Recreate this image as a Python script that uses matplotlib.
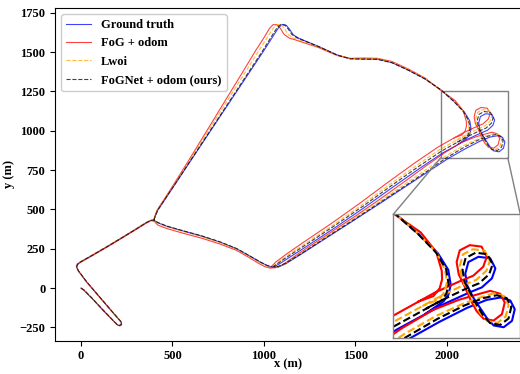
import numpy as np
import matplotlib
matplotlib.use('Agg')
import matplotlib.pyplot as plt
from matplotlib.patches import Rectangle, ConnectionPatch

plt.rcParams['font.family'] = ['Liberation Serif', 'DejaVu Serif']
plt.rcParams['font.weight'] = 'bold'

# Ground truth trajectory (m); None separates the two drawn pieces
gt_x = [0, 15, 60, 120, 180, 198, 210, 220, 219, 170, 100, 30, -15, -25, -20, -5, 60, 140, 220, 300, 355, 380, 398,
        420, 470, 560, 660, 760, 850, 920, 980, 1020, 1050, 1080, 1120,
        1200, 1350, 1500, 1650, 1800, 1900, 2005, 2100, 2180, 2236,
        2275, 2304, 2317, 2309, 2285, 2256, 2236, 2217,
        2198, 2180, 2174, 2183, 2212, 2246, 2261, 2251, 2222, 2185,
        2111, 1976, 1850, 1700, 1550, 1400, 1250, 1150, 1090, 1060, None,
        398, 405, 420, 500, 600, 700, 800, 900, 1000, 1055, 1080, 1100, 1122, 1140, 1160, 1190, 1300, 1400, 1470,
        1550, 1620, 1700, 1790, 1880, 1970, 2040, 2095, 2125, 2132, 2125, 2111, 2060]
gt_y = [0, -12, -65, -140, -212, -233, -238, -231, -215, -150, -55, 40, 110, 135, 152, 165, 208, 262, 318, 375, 415, 430, 432,
        415, 392, 362, 330, 292, 250, 205, 165, 142, 132, 134, 155,
        213, 325, 437, 550, 665, 742, 822, 885, 933, 960,
        968, 958, 928, 888, 866, 872, 898, 932,
        966, 1008, 1050, 1090, 1108, 1103, 1068, 1034, 1003, 985,
        945, 858, 760, 638, 513, 393, 278, 203, 158, 138, None,
        432, 455, 495, 635, 810, 985, 1160, 1335, 1510, 1610, 1655, 1676, 1670, 1645, 1610, 1588, 1535, 1482, 1458,
        1456, 1455, 1433, 1385, 1330, 1258, 1185, 1120, 1063, 1011, 977, 955, 913]

# FoG + odom
fog_x = [2, 17, 62, 122, 182, 200, 212, 222, 221, 172, 102, 32, -13, -23, -18, -3, 62, 142, 222, 302, 357, 382, 400,
         420, 470, 560, 660, 760, 850, 915, 970, 1005, 1035, 1065, 1105,
         1190, 1340, 1490, 1640, 1790, 1890, 1990, 2080, 2155, 2207,
         2246, 2275, 2288, 2280, 2256, 2227, 2207, 2190,
         2173, 2155, 2149, 2158, 2187, 2221, 2236, 2226, 2197, 2160,
         2086, 1951, 1825, 1675, 1525, 1375, 1225, 1125, 1065, 1035, None,
         398, 403, 416, 494, 588, 680, 772, 864, 955, 1005, 1030, 1050, 1072, 1090, 1110, 1140, 1170, 1300, 1400, 1470,
         1550, 1620, 1700, 1790, 1880, 1960, 2045, 2090, 2106, 2107, 2100, 2082, 2040]
fog_y = [-2, -14, -67, -142, -214, -235, -240, -233, -217, -152, -57, 38, 108, 133, 150, 163, 206, 260, 316, 373, 413, 428, 425,
         400, 378, 348, 317, 280, 240, 197, 158, 136, 127, 130, 150,
         220, 335, 450, 570, 695, 780, 862, 925, 960, 978,
         991, 981, 951, 911, 889, 895, 921, 958,
         1004, 1048, 1090, 1130, 1148, 1143, 1108, 1074, 1043, 1025,
         985, 896, 796, 670, 540, 416, 298, 218, 166, 130, None,
         430, 455, 495, 635, 810, 985, 1160, 1335, 1510, 1600, 1650, 1674, 1674, 1650, 1612, 1588, 1578, 1528, 1478, 1460,
         1462, 1460, 1440, 1392, 1335, 1262, 1192, 1125, 1060, 1030, 1000, 973, 955]

# Lwoi
lwoi_x = [-1, 14, 59, 119, 179, 197, 209, 219, 218, 169, 99, 29, -16, -26, -21, -6, 59, 139, 219, 299, 354, 379, 397,
          420, 470, 560, 660, 760, 850, 918, 976, 1014, 1044, 1074, 1114,
          1195, 1345, 1495, 1645, 1795, 1895, 1998, 2090, 2168, 2222,
          2257, 2286, 2299, 2291, 2267, 2238, 2218, 2200,
          2182, 2164, 2158, 2167, 2196, 2230, 2245, 2235, 2206, 2169,
          2095, 1960, 1835, 1685, 1535, 1385, 1235, 1135, 1075, 1045, None,
          398, 404, 418, 497, 593, 688, 783, 878, 973, 1025, 1052, 1072, 1095, 1113, 1133, 1163, 1300, 1400, 1470,
          1550, 1620, 1700, 1790, 1880, 1966, 2036, 2091, 2116, 2121, 2114, 2098, 2050]
lwoi_y = [1, -11, -64, -139, -211, -232, -237, -230, -214, -149, -54, 41, 111, 136, 153, 166, 209, 263, 319, 376, 416, 431, 433,
          412, 389, 359, 327, 290, 248, 203, 163, 141, 131, 134, 156,
          217, 330, 445, 560, 680, 760, 843, 905, 947, 970,
          983, 973, 943, 903, 881, 887, 913, 948,
          992, 1034, 1076, 1116, 1134, 1129, 1094, 1060, 1029, 1011,
          968, 880, 780, 656, 528, 406, 289, 213, 163, 133, None,
          433, 455, 495, 635, 810, 985, 1160, 1335, 1510, 1605, 1652, 1676, 1674, 1648, 1611, 1588, 1532, 1480, 1459,
          1459, 1458, 1437, 1389, 1333, 1261, 1190, 1123, 1062, 1020, 987, 962, 939]

# FoGNet + odom (ours)
net_x = [1, 16, 61, 121, 181, 199, 211, 221, 220, 171, 101, 31, -14, -24, -19, -4, 61, 141, 221, 301, 356, 381, 399,
         420, 470, 560, 660, 760, 850, 919, 978, 1017, 1047, 1077, 1117,
         1198, 1348, 1498, 1648, 1798, 1898, 2000, 2094, 2172, 2226,
         2265, 2294, 2307, 2299, 2275, 2246, 2226, 2208,
         2190, 2172, 2166, 2175, 2204, 2238, 2253, 2243, 2214, 2177,
         2103, 1968, 1843, 1693, 1543, 1393, 1243, 1143, 1083, 1053, None,
         399, 405, 419, 499, 598, 697, 796, 895, 994, 1047, 1072, 1092, 1115, 1133, 1153, 1183, 1300, 1400, 1470,
         1550, 1620, 1700, 1790, 1880, 1968, 2037, 2090, 2119, 2126, 2119, 2105, 2056]
net_y = [0, -12, -65, -140, -212, -233, -238, -231, -215, -150, -55, 40, 110, 135, 152, 165, 208, 262, 318, 375, 415, 430, 432,
         417, 394, 364, 332, 294, 252, 207, 167, 144, 134, 137, 158,
         215, 328, 440, 554, 670, 748, 830, 895, 941, 966,
         976, 966, 936, 896, 874, 880, 906, 941,
         980, 1022, 1064, 1104, 1122, 1117, 1082, 1048, 1017, 999,
         957, 869, 771, 648, 522, 402, 286, 210, 163, 138, None,
         432, 455, 495, 635, 810, 985, 1160, 1335, 1510, 1610, 1655, 1676, 1671, 1646, 1611, 1589, 1534, 1481, 1457,
         1455, 1454, 1432, 1384, 1329, 1259, 1187, 1122, 1064, 1013, 980, 958, 927]

series = [
    ('Ground truth', gt_x, gt_y, '#0000ff', '-'),
    ('FoG + odom', fog_x, fog_y, '#ff0000', '-'),
    ('Lwoi', lwoi_x, lwoi_y, '#ffa500', '--'),
    ('FoGNet + odom (ours)', net_x, net_y, '#000000', '--'),
]

fig = plt.figure(figsize=(5.2, 3.74), dpi=100)
W, H = 520, 374
ax = fig.add_axes([55 / W, (H - 340.5) / H, 466 / W, 332.5 / H])
for lab, xs, ys, c, ls in series:
    ax.plot(np.array(xs, dtype=float), np.array(ys, dtype=float), color=c, ls=ls, lw=0.8, alpha=0.75, label=lab)
ax.set_xlim(-142, 2405)
ax.set_ylim(-333, 1780)
ax.set_xticks([0, 500, 1000, 1500, 2000])
ax.set_yticks([-250, 0, 250, 500, 750, 1000, 1250, 1500, 1750])
ax.tick_params(labelsize=9)
ax.set_xlabel('x (m)', fontsize=9, fontweight='bold')
ax.xaxis.set_label_coords(0.5, -0.054)
ax.set_ylabel('y (m)', fontsize=9, fontweight='bold', labelpad=3)
ax.legend(loc='upper left', prop={'size': 9, 'weight': 'bold'}, framealpha=1, edgecolor='#cccccc')

x0, x1, y0, y1 = 1966, 2333, 828, 1254
ax.add_patch(Rectangle((x0, y0), x1 - x0, y1 - y0, fill=False, ec='0.5', lw=1))
axin = fig.add_axes([393.3 / W, (H - 338.3) / H, 127 / W, 124 / H])
for lab, xs, ys, c, ls in series:
    axin.plot(np.array(xs, dtype=float), np.array(ys, dtype=float), color=c, ls=ls, lw=1.5)
axin.set_xlim(x0, x1)
axin.set_ylim(y0, y1)
axin.set_xticks([])
axin.set_yticks([])
for s in axin.spines.values():
    s.set_color('0.5')
    s.set_linewidth(1)
for (xa, ya), (xb, yb) in [((x0, y0), (0, 1)), ((x1, y0), (1, 1))]:
    cp = ConnectionPatch(xyA=(xa, ya), coordsA=ax.transData, xyB=(xb, yb), coordsB=axin.transAxes,
                         color='0.5', lw=1)
    fig.add_artist(cp)

fig.savefig('out.png', dpi=100)
